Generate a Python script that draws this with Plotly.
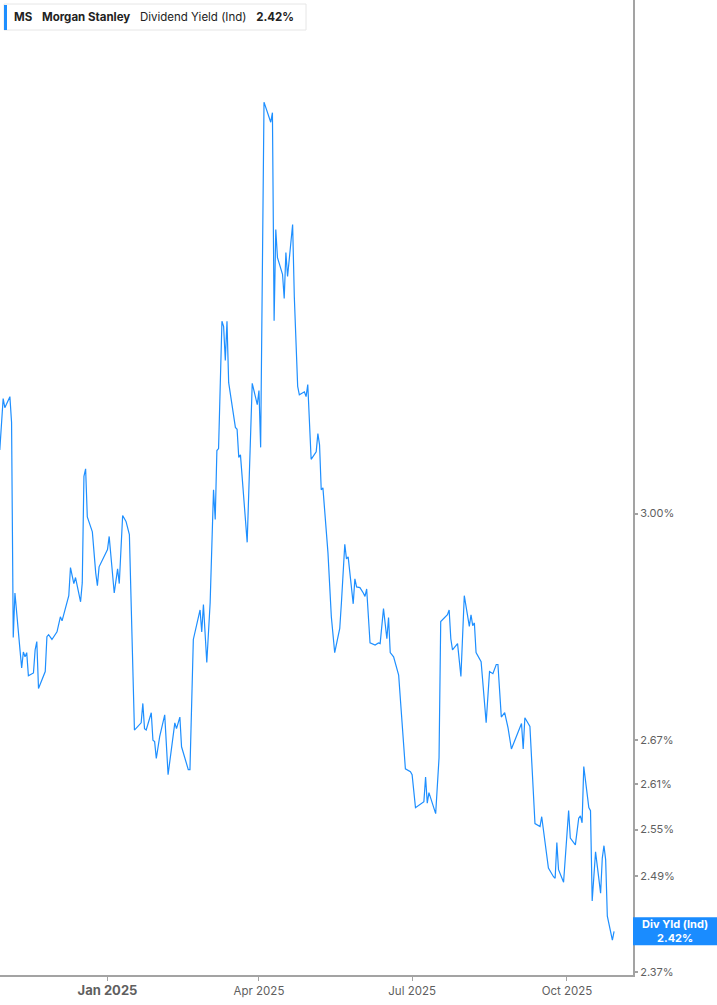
import numpy as np
import plotly.graph_objs as go

ticker = "MS"
company = "Morgan Stanley"
metric = "Dividend Yield (Ind)"

dates = [
    "2024-10-29", "2024-10-31", "2024-11-01", "2024-11-04", "2024-11-05", "2024-11-06",
    "2024-11-07", "2024-11-09", "2024-11-10", "2024-11-11", "2024-11-12", "2024-11-13",
    "2024-11-14", "2024-11-15", "2024-11-18", "2024-11-19", "2024-11-20", "2024-11-21",
    "2024-11-25", "2024-11-26", "2024-11-27", "2024-11-29", "2024-12-02", "2024-12-04",
    "2024-12-05", "2024-12-09", "2024-12-10", "2024-12-12", "2024-12-13", "2024-12-16",
    "2024-12-17", "2024-12-18", "2024-12-19", "2024-12-20", "2024-12-23", "2024-12-25",
    "2024-12-26", "2024-12-27", "2024-12-31", "2025-01-01", "2025-01-02", "2025-01-05",
    "2025-01-07", "2025-01-08", "2025-01-10", "2025-01-12", "2025-01-14", "2025-01-17",
    "2025-01-21", "2025-01-22", "2025-01-23", "2025-01-24", "2025-01-27", "2025-01-28",
    "2025-01-29", "2025-01-30", "2025-02-01", "2025-02-04", "2025-02-06", "2025-02-10",
    "2025-02-11", "2025-02-13", "2025-02-14", "2025-02-18", "2025-02-19", "2025-02-21",
    "2025-02-25", "2025-02-26", "2025-02-27", "2025-03-01", "2025-03-03", "2025-03-05",
    "2025-03-06", "2025-03-07", "2025-03-08", "2025-03-10", "2025-03-11", "2025-03-12",
    "2025-03-13", "2025-03-14", "2025-03-18", "2025-03-19", "2025-03-20", "2025-03-21",
    "2025-03-25", "2025-03-28", "2025-03-31", "2025-04-01", "2025-04-02", "2025-04-04",
    "2025-04-08", "2025-04-09", "2025-04-10", "2025-04-11", "2025-04-12", "2025-04-15",
    "2025-04-16", "2025-04-17", "2025-04-18", "2025-04-21", "2025-04-22", "2025-04-24",
    "2025-04-25", "2025-04-28", "2025-04-29", "2025-04-30", "2025-05-02", "2025-05-05",
    "2025-05-06", "2025-05-07", "2025-05-08", "2025-05-09", "2025-05-12", "2025-05-14",
    "2025-05-16", "2025-05-19", "2025-05-20", "2025-05-22", "2025-05-23", "2025-05-24",
    "2025-05-27", "2025-05-28", "2025-05-29", "2025-05-31", "2025-06-02", "2025-06-03",
    "2025-06-04", "2025-06-06", "2025-06-09", "2025-06-11", "2025-06-12", "2025-06-14",
    "2025-06-16", "2025-06-17", "2025-06-18", "2025-06-20", "2025-06-23", "2025-06-27",
    "2025-06-30", "2025-07-01", "2025-07-03", "2025-07-08", "2025-07-09", "2025-07-10",
    "2025-07-11", "2025-07-15", "2025-07-17", "2025-07-18", "2025-07-22", "2025-07-23",
    "2025-07-24", "2025-07-25", "2025-07-28", "2025-07-30", "2025-08-01", "2025-08-04",
    "2025-08-05", "2025-08-06", "2025-08-07", "2025-08-08", "2025-08-11", "2025-08-13",
    "2025-08-14", "2025-08-16", "2025-08-18", "2025-08-20", "2025-08-21", "2025-08-23",
    "2025-08-25", "2025-08-27", "2025-08-29", "2025-09-04", "2025-09-05", "2025-09-06",
    "2025-09-09", "2025-09-12", "2025-09-15", "2025-09-16", "2025-09-19", "2025-09-20",
    "2025-09-23", "2025-09-24", "2025-09-25", "2025-09-26", "2025-09-29", "2025-10-02",
    "2025-10-03", "2025-10-06", "2025-10-08", "2025-10-09", "2025-10-10", "2025-10-11",
    "2025-10-14", "2025-10-15", "2025-10-16", "2025-10-18", "2025-10-21", "2025-10-22",
    "2025-10-23", "2025-10-24", "2025-10-25", "2025-10-28", "2025-10-29",
]

div_yield = [
    3.100, 3.183, 3.168, 3.186, 3.144, 2.815,
    2.880, 2.831, 2.797, 2.771, 2.794, 2.787,
    2.793, 2.760, 2.764, 2.797, 2.809, 2.742,
    2.766, 2.816, 2.819, 2.812, 2.823, 2.845,
    2.839, 2.876, 2.918, 2.894, 2.903, 2.867,
    2.895, 3.058, 3.070, 2.995, 2.972, 2.910,
    2.891, 2.919, 2.942, 2.945, 2.965, 2.880,
    2.916, 2.894, 2.997, 2.988, 2.968, 2.684,
    2.694, 2.721, 2.686, 2.684, 2.708, 2.670,
    2.668, 2.645, 2.675, 2.705, 2.623, 2.694,
    2.686, 2.702, 2.661, 2.630, 2.630, 2.812,
    2.855, 2.823, 2.863, 2.779, 2.866, 3.037,
    2.991, 3.099, 3.102, 3.312, 3.303, 3.246,
    3.312, 3.209, 3.136, 3.133, 3.088, 3.092,
    2.956, 3.208, 3.173, 3.196, 3.104, 3.707,
    3.669, 3.687, 3.313, 3.472, 3.422, 3.393,
    3.351, 3.431, 3.389, 3.481, 3.354, 3.203,
    3.189, 3.194, 3.186, 3.206, 3.085, 3.097,
    3.126, 3.108, 3.037, 3.040, 2.940, 2.845,
    2.793, 2.828, 2.866, 2.953, 2.931, 2.934,
    2.864, 2.901, 2.889, 2.888, 2.880, 2.875,
    2.886, 2.807, 2.804, 2.807, 2.806, 2.857,
    2.813, 2.844, 2.793, 2.787, 2.761, 2.631,
    2.627, 2.623, 2.579, 2.587, 2.620, 2.585,
    2.599, 2.571, 2.646, 2.838, 2.848, 2.855,
    2.813, 2.797, 2.806, 2.759, 2.876, 2.831,
    2.848, 2.832, 2.836, 2.793, 2.780, 2.715,
    2.694, 2.766, 2.763, 2.776, 2.776, 2.702,
    2.708, 2.687, 2.658, 2.693, 2.658, 2.701,
    2.689, 2.558, 2.554, 2.567, 2.511, 2.500,
    2.489, 2.487, 2.533, 2.498, 2.482, 2.575,
    2.539, 2.530, 2.565, 2.568, 2.559, 2.634,
    2.579, 2.575, 2.458, 2.521, 2.468, 2.513,
    2.529, 2.511, 2.439, 2.409, 2.420,
]

# 2.43% sits under the last-value flag in the original, so it is left out
y_ticks = [2.37, 2.49, 2.55, 2.61, 2.67, 3.00]
x_ticks = ["2025-01-01", "2025-04-01", "2025-07-01", "2025-10-01"]
x_tick_labels = ['<span style="font-size:13px"><b>Jan 2025</b></span>',
                 "Apr 2025", "Jul 2025", "Oct 2025"]

line_blue = "#1e8fff"
axis_grey = "#a3a3a3"
text_grey = "#5f5f5f"
last_value = div_yield[-1]

y_lo, y_hi = np.log10(2.3663), np.log10(3.907)
last_frac = (np.log10(last_value) - y_lo) / (y_hi - y_lo)

fig = go.Figure()
fig.add_trace(go.Scatter(
    x=dates, y=div_yield, mode="lines",
    line=dict(color=line_blue, width=1.2),
    hoverinfo="x+y", showlegend=False,
))

fig.update_xaxes(
    type="date",
    range=["2024-10-29 03:00", "2025-11-09 06:00"],
    tickvals=x_ticks, ticktext=x_tick_labels,
    ticks="outside", ticklen=4, tickcolor=axis_grey, tickwidth=1,
    showline=True, linecolor=axis_grey, linewidth=2,
    showgrid=False, zeroline=False,
    tickfont=dict(family="Inter, sans-serif", size=11.5, color=text_grey),
)
fig.update_yaxes(
    type="log", side="right",
    range=[y_lo, y_hi],
    tickvals=y_ticks, ticktext=["%.2f%%" % v for v in y_ticks],
    ticks="outside", ticklen=3, tickcolor=axis_grey, tickwidth=2,
    showline=True, linecolor=axis_grey, linewidth=2,
    showgrid=False, zeroline=False,
    tickfont=dict(family="Inter, sans-serif", size=11, color=text_grey),
)

nb = "\u00a0"
header = (f"<b>{ticker}</b>{nb * 3}<b>{company}</b>{nb * 3}"
          f"{metric}{nb * 3}<b>{last_value:.2f}%</b>")

fig.update_layout(
    width=717, height=1005,
    margin=dict(l=0, r=84, t=0, b=30, pad=0),
    paper_bgcolor="white", plot_bgcolor="white",
    font=dict(family="Inter, sans-serif"),
    shapes=[
        # header box + blue marker
        dict(type="rect", xref="paper", yref="paper", layer="above",
             xsizemode="pixel", ysizemode="pixel", xanchor=0, yanchor=1,
             x0=4, x1=306, y0=-4, y1=-30,
             fillcolor="white", line=dict(color="#e6e6e6", width=1)),
        dict(type="rect", xref="paper", yref="paper", layer="above",
             xsizemode="pixel", ysizemode="pixel", xanchor=0, yanchor=1,
             x0=4, x1=7, y0=-5, y1=-30,
             fillcolor=line_blue, line=dict(width=0)),
        # last-value flag on the right axis
        dict(type="rect", xref="paper", yref="paper", layer="above",
             xsizemode="pixel", ysizemode="pixel", xanchor=1, yanchor=last_frac,
             x0=0, x1=84, y0=-14, y1=14,
             fillcolor="#1a8cff", line=dict(width=0)),
    ],
    annotations=[
        dict(text=header, xref="paper", yref="paper", x=0, y=1,
             xanchor="left", yanchor="middle", xshift=12, yshift=-17,
             showarrow=False, align="left",
             font=dict(family="Inter, sans-serif", size=11.5, color="#222222")),
        dict(text=f"<b>Div Yld (Ind)</b><br><b>{last_value:.2f}%</b>",
             xref="paper", yref="paper", x=1, y=last_frac,
             xanchor="center", yanchor="middle", xshift=42,
             showarrow=False, align="center",
             font=dict(family="Inter, sans-serif", size=11, color="white")),
    ],
)

fig.write_html("out.html", config={"displayModeBar": False},
               post_script="document.body.style.margin = '0';")
